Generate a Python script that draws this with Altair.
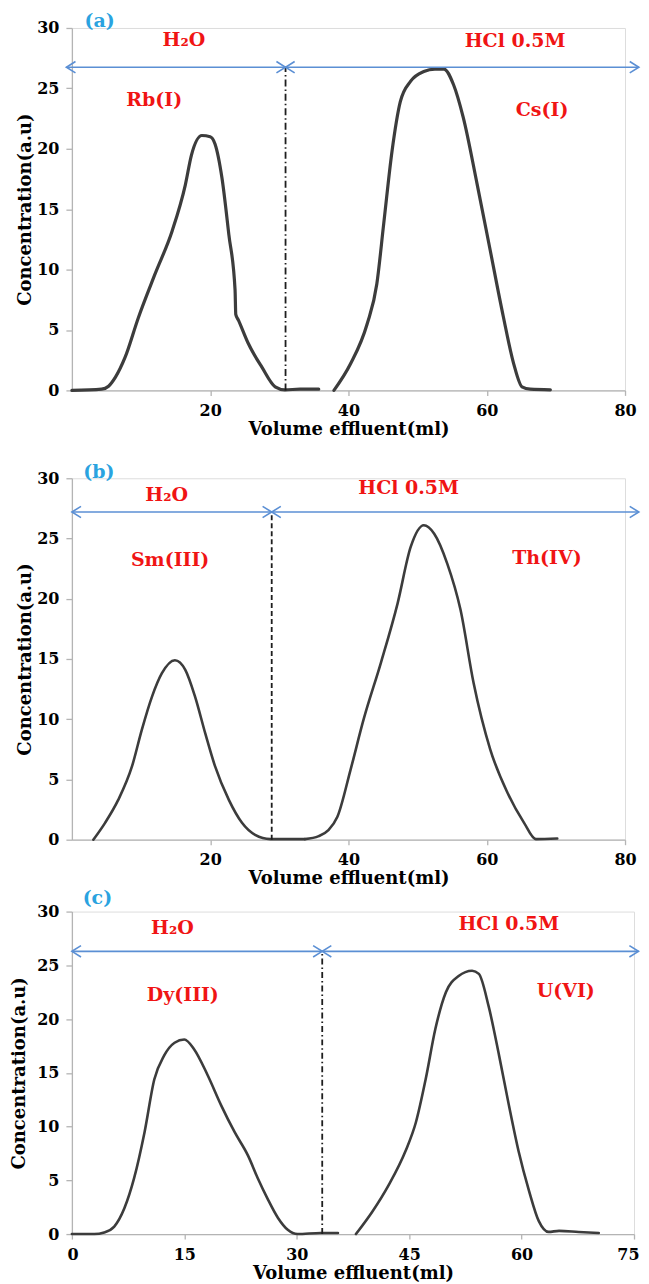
import altair as alt
import pandas as pd

# ---------------- data ----------------
rb_x = [0, 4.3, 5.3, 6.3, 7.7, 9.6, 12.0, 14.5, 16.4, 17.3, 18.8, 20.0, 20.7, 21.7, 22.7, 23.6, 23.7, 24.1, 25.5, 27.5, 29.4, 30.8, 33.0, 35.7]
rb_y = [0, 0.1, 0.35, 1.1, 2.75, 6.0, 9.6, 13.2, 17.0, 19.5, 21.1, 21.0, 20.4, 17.6, 12.9, 8.3, 6.3, 5.8, 3.9, 1.9, 0.3, 0.05, 0.1, 0.1]
cs_x = [37.9, 40.3, 42.7, 44.1, 45.1, 46.3, 47.5, 49.0, 50.9, 52.5, 53.8, 55.2, 56.6, 58.6, 60.5, 62.4, 63.9, 65.1, 66.3, 69.2]
cs_y = [0, 2.2, 5.5, 8.8, 13.8, 19.8, 23.9, 25.6, 26.4, 26.6, 26.6, 25.3, 22.6, 17.1, 11.6, 6.1, 2.2, 0.3, 0.1, 0.05]

sm_x = [3.1, 4.8, 6.7, 8.7, 10.1, 11.6, 13.0, 14.9, 16.4, 17.8, 19.3, 20.7, 22.7, 24.6, 26.5, 28.7, 33.7]
sm_y = [0, 1.4, 3.3, 6.1, 9.1, 11.9, 13.8, 14.9, 14.1, 11.9, 8.8, 6.1, 3.3, 1.4, 0.4, 0.05, 0.05]
th_x = [33.7, 35.7, 37.1, 38.4, 40.3, 42.2, 44.7, 47.1, 49.0, 50.9, 52.4, 54.3, 56.2, 58.1, 60.5, 63.0, 65.4, 67.1, 70.2]
th_y = [0.05, 0.3, 0.8, 1.9, 5.8, 10.0, 14.7, 19.6, 24.3, 26.1, 25.4, 22.9, 19.1, 13.0, 7.5, 3.9, 1.4, 0.05, 0.1]

dy_x = [0, 3.0, 4.3, 5.65, 7.0, 8.3, 9.7, 11.0, 12.3, 13.7, 15.0, 16.3, 18.1, 19.9, 21.7, 23.5, 24.8, 26.1, 27.5, 28.8, 30.1, 33.2, 35.5]
dy_y = [0, 0, 0.15, 0.7, 2.4, 5.2, 9.5, 14.4, 16.6, 17.8, 18.1, 17.2, 14.8, 12.0, 9.5, 7.3, 5.2, 3.3, 1.5, 0.4, 0, 0.1, 0.1]
u_x = [37.9, 40.1, 42.3, 44.5, 45.9, 47.2, 48.5, 49.9, 51.6, 53.4, 54.3, 55.6, 57.0, 58.3, 59.6, 61.0, 62.3, 63.6, 65.0, 67.6, 70.3]
u_y = [0, 2.1, 4.6, 7.7, 10.4, 14.4, 19.1, 22.5, 24.0, 24.5, 24.2, 21.2, 16.6, 12.0, 7.7, 4.0, 1.2, 0.2, 0.3, 0.2, 0.1]

panel_letters = ["(a)", "(b)", "(c)"]
letter_x = [4.0, 3.9, 3.4]
letter_y = [30.6, 30.5, 31.25]
x_max = [80, 80, 75]
x_tick_values = [[20, 40, 60, 80], [20, 40, 60, 80], [0, 15, 30, 45, 60, 75]]
y_tick_values = [0, 5, 10, 15, 20, 25, 30]
divider_x = [30.9, 28.9, 33.4]
arrow_y = [26.75, 27.2, 26.3]
arrow_left = [-0.8, 0.0, 0.0]
arrow_right = [82.0, 82.0, 75.6]

solvent_text = ["H₂O", "HCl 0.5M"]
solvent_x = [[16.2, 64.1], [13.7, 48.7], [13.4, 58.3]]
solvent_y = [[29.0, 28.9], [28.6, 29.2], [28.5, 28.8]]
element_text = [["Rb(I)", "Cs(I)"], ["Sm(III)", "Th(IV)"], ["Dy(III)", "U(VI)"]]
element_x = [[11.9, 68.0], [14.2, 68.7], [14.8, 65.9]]
element_y = [[24.0, 23.2], [23.2, 23.4], [22.2, 22.6]]

curves = [
    [("first", rb_x, rb_y), ("second", cs_x, cs_y)],
    [("first", sm_x, sm_y), ("second", th_x, th_y)],
    [("first", dy_x, dy_y), ("second", u_x, u_y)],
]

# ---------------- layout / styling ----------------
FONT = "DejaVu Serif"
BLUE = "#5b8fd4"
RED = "#f01414"
LETTER_BLUE = "#2aa3e0"
CURVE = "#3c3c3c"
AXIS_GRAY = "#b4b4b4"

widths = [554, 554, 563]
heights = [363, 362, 323]
line_widths = [3.2, 2.6, 2.6]
dashes = [[7, 3, 1.5, 3], [5, 3], [6, 3, 1.5, 3]]
title_pads = [2, 2, 8]
label_flush = [False, False, True]
label_flush_offset = [0, 0, 5]
# invisible spacer (top of panel bounds, in data units) used only to set the gap above a panel
spacer_top = [None, 33.15, None]

PATH_L = "M 1.6 -1 L 0 0 L 1.6 1"
PATH_R = "M -1.6 -1 L 0 0 L -1.6 1"


def make_panel(i):
    rows = []
    for name, xs, ys in curves[i]:
        for xv, yv in zip(xs, ys):
            rows.append({"x": xv, "y": yv, "series": name})
    curve_df = pd.DataFrame(rows)

    xs = alt.Scale(domain=[0, x_max[i]], nice=False, zero=False)
    ys = alt.Scale(domain=[0, 30], nice=False)
    x_axis = alt.Axis(
        values=x_tick_values[i], title="Volume effluent(ml)", grid=False,
        tickSize=5, labelPadding=7, labelFontSize=16, titleFontSize=18,
        titlePadding=2, labelFont=FONT, titleFont=FONT, labelFontWeight="bold",
        titleFontWeight="bold", labelColor="black", titleColor="black",
        domainColor=AXIS_GRAY, tickColor=AXIS_GRAY, domainWidth=1.3, tickWidth=1.3,
        labelFlush=label_flush[i], labelFlushOffset=label_flush_offset[i],
    )
    y_axis = alt.Axis(
        values=y_tick_values, title="Concentration(a.u)", grid=False,
        tickSize=6, labelPadding=7, labelFontSize=16, titleFontSize=18,
        titlePadding=title_pads[i], labelFont=FONT, titleFont=FONT,
        labelFontWeight="bold", titleFontWeight="bold", labelColor="black",
        titleColor="black", domainColor=AXIS_GRAY, tickColor=AXIS_GRAY,
        domainWidth=1.3, tickWidth=1.3,
    )
    X = alt.X("x:Q", scale=xs, axis=x_axis)
    Y = alt.Y("y:Q", scale=ys, axis=y_axis)

    line = alt.Chart(curve_df).mark_line(
        color=CURVE, strokeWidth=line_widths[i], interpolate="monotone",
        strokeCap="round", strokeJoin="round",
    ).encode(x=X, y=Y, detail="series:N")

    div = divider_x[i]
    ay = arrow_y[i]
    arrows_df = pd.DataFrame({"x": [arrow_left[i], div], "x2": [div, arrow_right[i]], "y": [ay, ay]})
    rule = alt.Chart(arrows_df).mark_rule(color=BLUE, strokeWidth=1.6).encode(x=X, x2="x2:Q", y=Y)

    heads_df = pd.DataFrame({
        "x": [arrow_left[i], div, div, arrow_right[i]],
        "y": [ay] * 4,
        "dir": ["L", "R", "L", "R"],
    })
    heads = alt.Chart(heads_df).mark_point(
        filled=False, stroke=BLUE, strokeWidth=1.6, size=130, opacity=1,
    ).encode(
        x=X, y=Y,
        shape=alt.Shape("dir:N", scale=alt.Scale(domain=["L", "R"], range=[PATH_L, PATH_R]), legend=None),
    )

    divider_df = pd.DataFrame({"x": [div], "y": [0.0], "y2": [ay]})
    divider = alt.Chart(divider_df).mark_rule(
        color="#1e1e1e", strokeWidth=1.8, strokeDash=dashes[i],
    ).encode(x=X, y=Y, y2="y2:Q")

    text_df = pd.DataFrame({
        "x": solvent_x[i] + element_x[i],
        "y": solvent_y[i] + element_y[i],
        "label": solvent_text + element_text[i],
    })
    texts = alt.Chart(text_df).mark_text(
        font=FONT, fontWeight="bold", fontSize=19, color=RED,
    ).encode(x=X, y=Y, text="label:N")

    letter_df = pd.DataFrame({"x": [letter_x[i]], "y": [letter_y[i]], "label": [panel_letters[i]]})
    letter = alt.Chart(letter_df).mark_text(
        font=FONT, fontWeight="bold", fontSize=19, color=LETTER_BLUE,
    ).encode(x=X, y=Y, text="label:N")

    layers = [line, divider, rule, heads, texts, letter]
    if spacer_top[i] is not None:
        spacer_df = pd.DataFrame({"x": [0.0], "y": [30.0], "y2": [spacer_top[i]]})
        spacer = alt.Chart(spacer_df).mark_rule(opacity=0, strokeOpacity=0).encode(
            x=X, y=Y, y2="y2:Q"
        )
        layers.append(spacer)

    return alt.layer(*layers).properties(width=widths[i], height=heights[i])


pa, pb, pc = make_panel(0), make_panel(1), make_panel(2)

chart = alt.concat(pa, pb, pc, columns=1, spacing=0, align="none").properties(
    padding={"left": 2, "top": 2, "right": -2, "bottom": 0}
).configure_view(stroke=None).configure(background="white")

chart.save("out.html", embed_options={"renderer": "svg", "actions": False})
